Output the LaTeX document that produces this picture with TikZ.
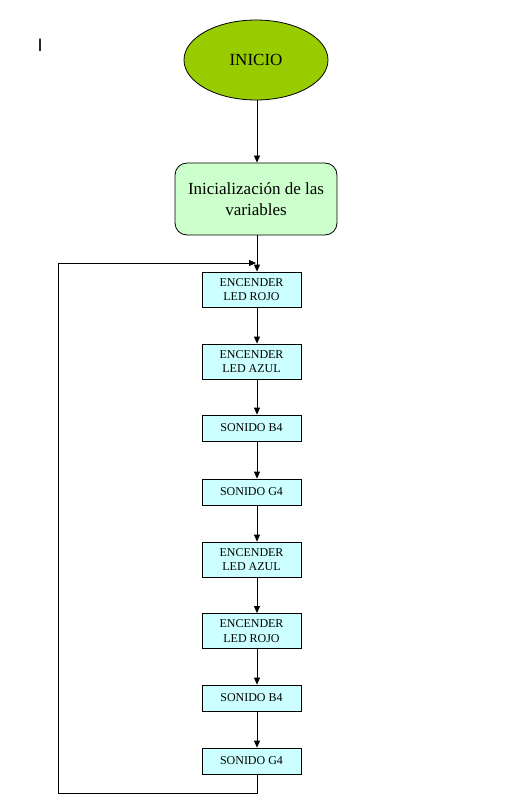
\documentclass[tikz,border=0pt]{standalone}
\usepackage{fontspec}
\setmainfont{Liberation Serif}
\newfontfamily\sansf{Liberation Sans}
\usetikzlibrary{shapes.geometric,arrows.meta}
\definecolor{startgreen}{HTML}{99CC00}
\definecolor{initgreen}{HTML}{CCFFCC}
\definecolor{boxcyan}{HTML}{CCFFFF}
\tikzset{
  x=1pt,y=-1pt,
  startnode/.style={ellipse,draw,thick,fill=startgreen,minimum width=144pt,minimum height=80pt,inner sep=0pt,font=\fontsize{17}{20}\selectfont},
  initnode/.style={rectangle,rounded corners=12pt,draw,thick,fill=initgreen,minimum width=162pt,minimum height=72pt,inner sep=0pt,align=center,font=\fontsize{17}{21}\selectfont},
  twobox/.style={rectangle,draw,thick,fill=boxcyan,minimum width=99pt,minimum height=35pt,inner sep=0pt,align=center,font=\fontsize{12}{14.5}\selectfont},
  onebox/.style={rectangle,draw,thick,fill=boxcyan,minimum width=99pt,minimum height=26pt,inner sep=0pt,align=center,font=\fontsize{12}{14.5}\selectfont},
  conn/.style={thick,-{Triangle[length=7pt,width=6pt]}},
  plain/.style={thick}
}
\begin{document}
\begin{tikzpicture}
\useasboundingbox (0,0) rectangle (521,805);
\node[font=\sansf\fontsize{18}{20}\selectfont] (ilabel) at (40,45) {I};
\node[startnode] (start) at (256,60) {INICIO};
\node[initnode] (init) at (256,199) {Inicialización de las\\variables};
\node[twobox] (b1) at (251.5,289.5) {ENCENDER\\LED ROJO};
\node[twobox] (b2) at (251.5,361.5) {ENCENDER\\LED AZUL};
\node[onebox] (b3) at (251.5,428) {SONIDO B4};
\node[onebox] (b4) at (251.5,492) {SONIDO G4};
\node[twobox] (b5) at (251.5,559.5) {ENCENDER\\LED AZUL};
\node[twobox] (b6) at (251.5,631) {ENCENDER\\LED ROJO};
\node[onebox] (b7) at (251.5,698) {SONIDO B4};
\node[onebox] (b8) at (251.5,761) {SONIDO G4};
\draw[conn] (start.south -| 257,0) -- (init.north -| 257,0);
\draw[conn] (init.south -| 257,0) -- (b1.north -| 257,0);
\draw[conn] (b1.south -| 257,0) -- (b2.north -| 257,0);
\draw[conn] (b2.south -| 257,0) -- (b3.north -| 257,0);
\draw[conn] (b3.south -| 257,0) -- (b4.north -| 257,0);
\draw[conn] (b4.south -| 257,0) -- (b5.north -| 257,0);
\draw[conn] (b5.south -| 257,0) -- (b6.north -| 257,0);
\draw[conn] (b6.south -| 257,0) -- (b7.north -| 257,0);
\draw[conn] (b7.south -| 257,0) -- (b8.north -| 257,0);
\coordinate (lb) at (257,793);
\coordinate (ll) at (58,793);
\coordinate (lt) at (58,263);
\coordinate (lend) at (256,263);
\draw[conn] (b8.south -| 257,0) -- (lb) -- (ll) -- (lt) -- (lend);
\end{tikzpicture}
\end{document}
